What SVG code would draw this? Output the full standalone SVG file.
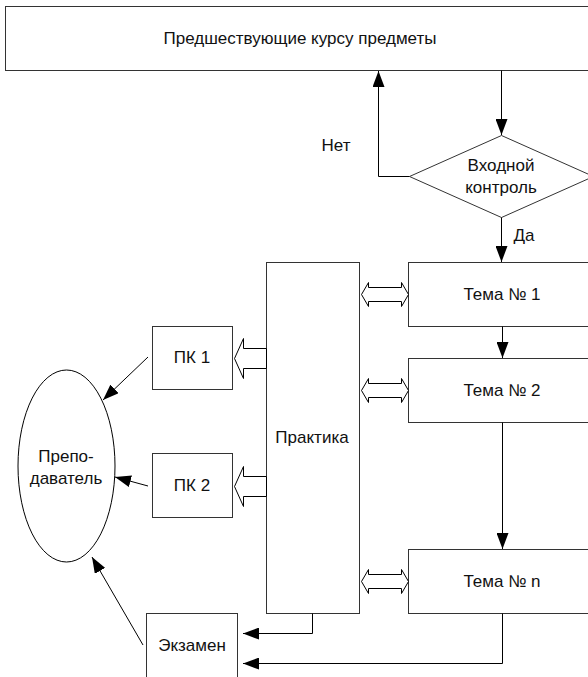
<svg xmlns="http://www.w3.org/2000/svg" width="588" height="677" viewBox="0 0 588 677">
<style>
.box{fill:#fff;stroke:#333;stroke-width:1}
.t{font-family:"Liberation Sans",Arial,sans-serif;font-size:17px;fill:#111;text-anchor:middle}
.c{fill:none;stroke:#000;stroke-width:1}
.fat{fill:#fff;stroke:#000;stroke-width:1}
</style>
<defs>
<marker id="ah" markerUnits="userSpaceOnUse" markerWidth="16" markerHeight="12" viewBox="0 0 16 12" refX="16" refY="6" orient="auto">
<path d="M0,0 L16,6 L0,12 Z" fill="#000"/>
</marker>
</defs>
<rect width="588" height="677" fill="#fff"/>
<g id="top"><rect class="box" x="5.5" y="6.5" width="600" height="64"/><text class="t" x="300" y="44">Предшествующие курсу предметы</text></g>
<g id="diamond"><polygon class="box" points="501.5,135.5 593.5,176.5 501.5,217.5 409.5,176.5"/><text class="t" x="501" y="171">Входной</text><text class="t" x="501" y="193">контроль</text></g>
<g id="tema1"><rect class="box" x="408.5" y="262.5" width="200" height="64"/><text class="t" x="502" y="300">Тема № 1</text></g>
<g id="tema2"><rect class="box" x="408.5" y="358.5" width="200" height="64"/><text class="t" x="502" y="396">Тема № 2</text></g>
<g id="teman"><rect class="box" x="408.5" y="549.5" width="200" height="64"/><text class="t" x="502" y="587">Тема № n</text></g>
<g id="practice"><rect class="box" x="266.5" y="262.5" width="93" height="351"/><text class="t" x="312" y="443">Практика</text></g>
<g id="pk1"><rect class="box" x="152.5" y="326.5" width="80" height="63"/><text class="t" x="192" y="363">ПК 1</text></g>
<g id="pk2"><rect class="box" x="152.5" y="453.5" width="80" height="64"/><text class="t" x="192" y="491">ПК 2</text></g>
<g id="teacher"><ellipse cx="66.5" cy="466" rx="48.5" ry="96" fill="#fff" stroke="#000"/><text class="t" x="66" y="462">Препо-</text><text class="t" x="66" y="484">даватель</text></g>
<g id="exam"><rect class="box" x="146.5" y="613.5" width="91" height="70"/><text class="t" x="192" y="651">Экзамен</text></g>
<g id="connectors">
<path class="c" d="M501.5,70.5 V135" marker-end="url(#ah)"/>
<path class="c" d="M409.5,176.5 H378.5 V71" marker-end="url(#ah)"/>
<path class="c" d="M501.5,217.5 V262" marker-end="url(#ah)"/>
<path class="c" d="M502.5,326.5 V358" marker-end="url(#ah)"/>
<path class="c" d="M502.5,422.5 V549" marker-end="url(#ah)"/>
<path class="c" d="M312.5,613.5 V633.5 H243" marker-end="url(#ah)"/>
<path class="c" d="M502.5,613.5 V663.5 H243" marker-end="url(#ah)"/>
<path class="c" d="M148,357 L103,400" marker-end="url(#ah)"/>
<path class="c" d="M148,486 L115,477" marker-end="url(#ah)"/>
<path class="c" d="M143,645 L92,557" marker-end="url(#ah)"/>
<polygon class="fat" points="361.5,294.5 368.5,282.5 368.5,287.5 401.5,287.5 401.5,282.5 408.5,294.5 401.5,306.5 401.5,301.5 368.5,301.5 368.5,306.5"/>
<polygon class="fat" points="361.5,390.5 368.5,378.5 368.5,383.5 401.5,383.5 401.5,378.5 408.5,390.5 401.5,402.5 401.5,397.5 368.5,397.5 368.5,402.5"/>
<polygon class="fat" points="361.5,581.5 368.5,569.5 368.5,574.5 401.5,574.5 401.5,569.5 408.5,581.5 401.5,593.5 401.5,588.5 368.5,588.5 368.5,593.5"/>
<polygon class="fat" points="234.5,358.5 243.5,338.5 243.5,348.5 266.5,348.5 266.5,368.5 243.5,368.5 243.5,378.5"/>
<polygon class="fat" points="234.5,486.5 243.5,466.5 243.5,476.5 266.5,476.5 266.5,496.5 243.5,496.5 243.5,506.5"/>
<text class="t" x="336" y="151">Нет</text>
<text class="t" x="524" y="241">Да</text>
</g>
</svg>
